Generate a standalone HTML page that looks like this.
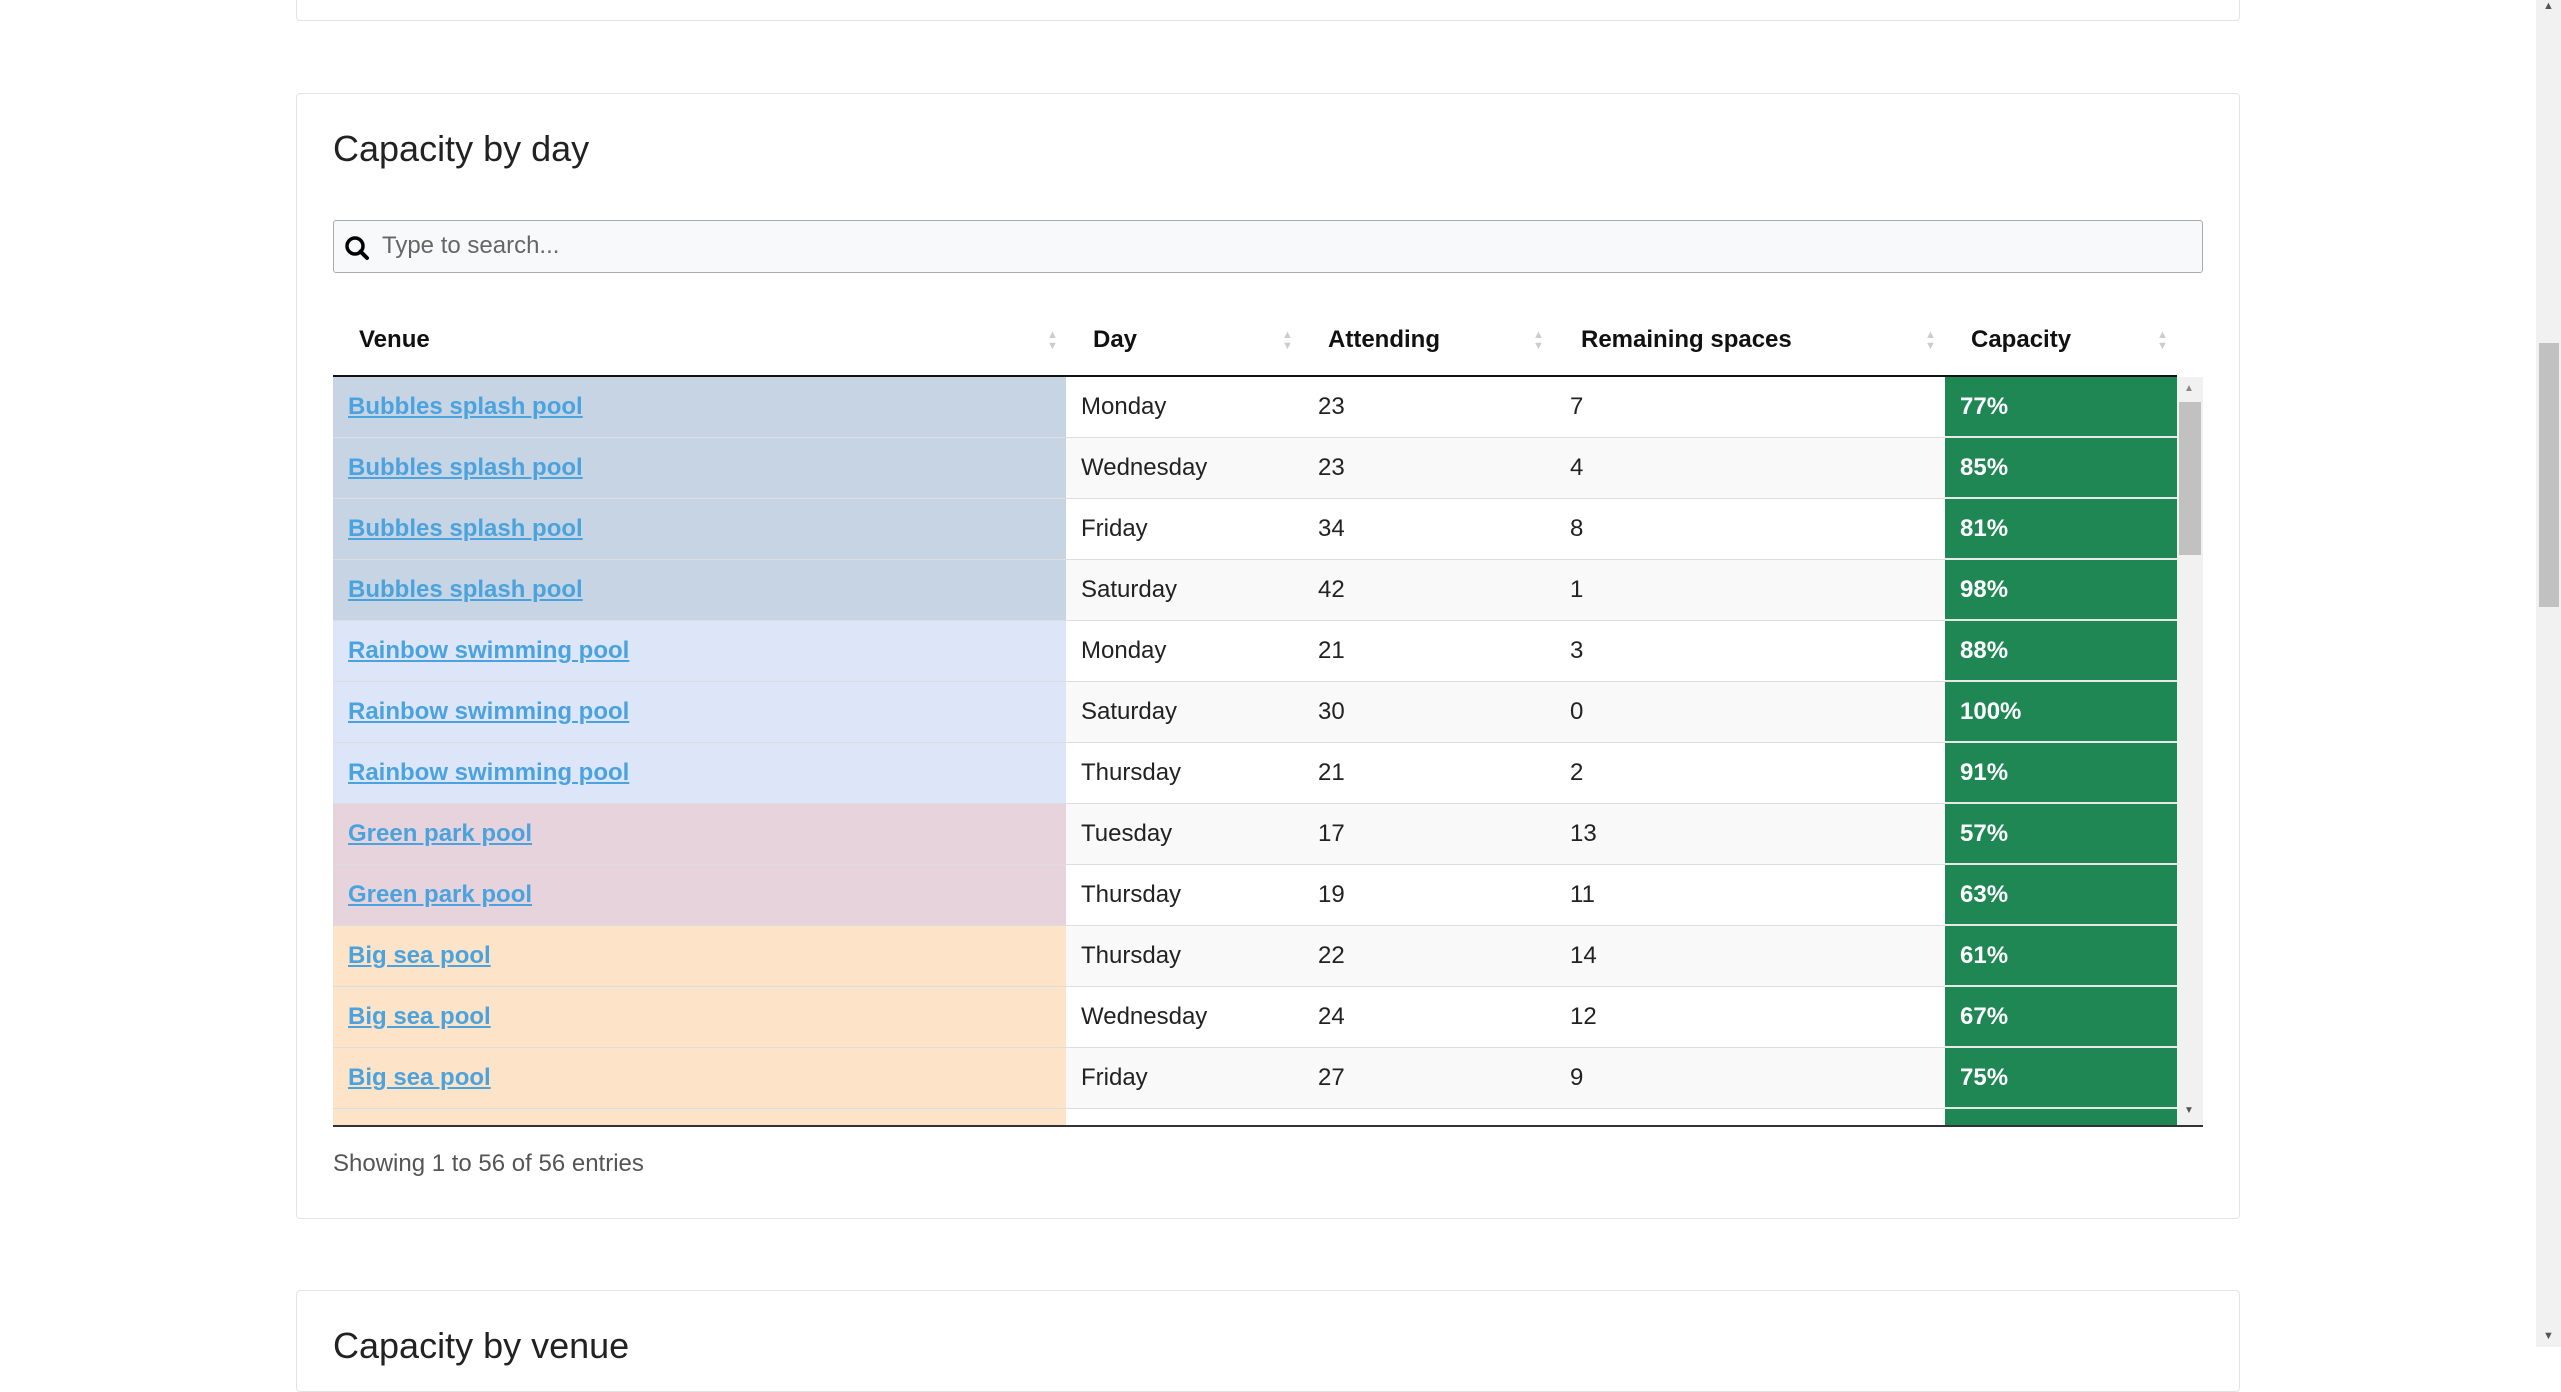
<!DOCTYPE html>
<html><head><meta charset="utf-8"><style>
body{margin:0;width:2561px;height:1347px;overflow:hidden;background:#fff;font-family:"Liberation Sans",sans-serif;color:#222;position:relative}
.card{position:absolute;left:296px;width:1942px;border:1px solid #e3e3e3;border-radius:4px;background:#fff}
.abs{position:absolute}
.th{position:absolute;top:326px;font-weight:bold;font-size:24px;color:#111}
.sort{position:absolute;top:330px;width:10px;color:#ccc;font-size:11px;line-height:11px}
#body{position:absolute;left:333px;top:377px;width:1844px;height:748px;overflow:hidden}
.row{position:absolute;left:0;width:1844px;height:61px}
.cell{position:absolute;top:0;height:60px;line-height:60px;font-size:24px;border-bottom:1px solid #ddd;box-sizing:content-box}
.cell a{color:#4aa3df;font-weight:bold;text-decoration:underline}
.cap{background:#1e8754;color:#fff;font-weight:bold;border-bottom:2px solid #e8e8e8;height:59px}
</style></head><body>
<div class="card" style="top:-10px;height:29px"></div>
<div class="card" style="top:93px;height:1124px"></div>
<div class="abs" style="left:333px;top:128px;font-size:36px;color:#222">Capacity by day</div>
<div class="abs" style="left:333px;top:220px;width:1868px;height:51px;border:1px solid #aaa;border-radius:3px;background:#f8f9fa">
<svg class="abs" style="left:10px;top:14px" width="26" height="26" viewBox="0 0 26 26"><circle cx="11" cy="11" r="8" fill="none" stroke="#000" stroke-width="3.5"/><line x1="16.5" y1="16.5" x2="23" y2="23" stroke="#000" stroke-width="4" stroke-linecap="round"/></svg>
<span class="abs" style="left:48px;top:11px;font-size:24px;color:#666">Type to search...</span></div>
<div class="th" style="left:359px">Venue</div>
<div class="th" style="left:1093px">Day</div>
<div class="th" style="left:1328px">Attending</div>
<div class="th" style="left:1581px">Remaining spaces</div>
<div class="th" style="left:1971px">Capacity</div>
<div class="sort" style="left:1047px">▲<br>▼</div>
<div class="sort" style="left:1282px">▲<br>▼</div>
<div class="sort" style="left:1533px">▲<br>▼</div>
<div class="sort" style="left:1925px">▲<br>▼</div>
<div class="sort" style="left:2157px">▲<br>▼</div>
<div class="abs" style="left:333px;top:375px;width:1844px;height:2px;background:#111"></div>
<div id="body"></div>
<div class="abs" style="left:2177px;top:377px;width:26px;height:748px;background:#f1f1f1">
<div class="abs" style="left:7px;top:6px;font-size:10px;color:#888">▲</div>
<div class="abs" style="left:2px;top:25px;width:22px;height:153px;background:#c1c1c1"></div>
<div class="abs" style="left:7px;top:728px;font-size:10px;color:#555">▼</div></div>
<div class="abs" style="left:333px;top:1125px;width:1870px;height:2px;background:#333"></div>
<div class="abs" style="left:333px;top:1150px;font-size:24px;color:#555">Showing 1 to 56 of 56 entries</div>
<div class="card" style="top:1290px;height:100px"></div>
<div class="abs" style="left:333px;top:1325px;font-size:36px;color:#222">Capacity by venue</div>
<div class="abs" style="left:2536px;top:0;width:25px;height:1347px;background:#f1f1f1">
<div class="abs" style="left:7px;top:0;font-size:11px;color:#555">▲</div>
<div class="abs" style="left:3px;top:343px;width:20px;height:264px;background:#c1c1c1"></div>
<div class="abs" style="left:7px;top:1330px;font-size:11px;color:#555">▼</div></div>
<script>
const venues=["Bubbles splash pool","Bubbles splash pool","Bubbles splash pool","Bubbles splash pool","Rainbow swimming pool","Rainbow swimming pool","Rainbow swimming pool","Green park pool","Green park pool","Big sea pool","Big sea pool","Big sea pool","Big sea pool"];
const days=["Monday","Wednesday","Friday","Saturday","Monday","Saturday","Thursday","Tuesday","Thursday","Thursday","Wednesday","Friday","Monday"];
const attending=[23,23,34,42,21,30,21,17,19,22,24,27,20];
const remaining=[7,4,8,1,3,0,2,13,11,14,12,9,16];
const capacity=["77%","85%","81%","98%","88%","100%","91%","57%","63%","61%","67%","75%","56%"];
const venueColor={"Bubbles splash pool":"#c7d4e4","Rainbow swimming pool":"#dce6f8","Green park pool":"#e6d3db","Big sea pool":"#fde3c8"};
const body=document.getElementById('body');
venues.forEach((v,i)=>{
 const r=document.createElement('div');r.className='row';r.style.top=(i*61)+'px';
 
 
 const bg=i%2?'#f9f9f9':'#fff';
 const cols=[[0,733,'<a>'+v+'</a>',venueColor[v]],[733,237,days[i],bg],[970,252,attending[i],bg],[1222,390,remaining[i],bg]];
 cols.forEach(c=>{const d=document.createElement('div');d.className='cell';
  
  
  d.style.left=c[0]+'px';d.style.width=(c[1]-15)+'px';d.style.paddingLeft='15px';d.style.background=c[3];d.innerHTML=c[2];r.appendChild(d);});
 const cp=document.createElement('div');cp.className='cell cap';
 
 
 cp.style.left='1612px';cp.style.width='217px';cp.style.paddingLeft='15px';cp.textContent=capacity[i];r.appendChild(cp);
 body.appendChild(r);
});
</script>
</body></html>
